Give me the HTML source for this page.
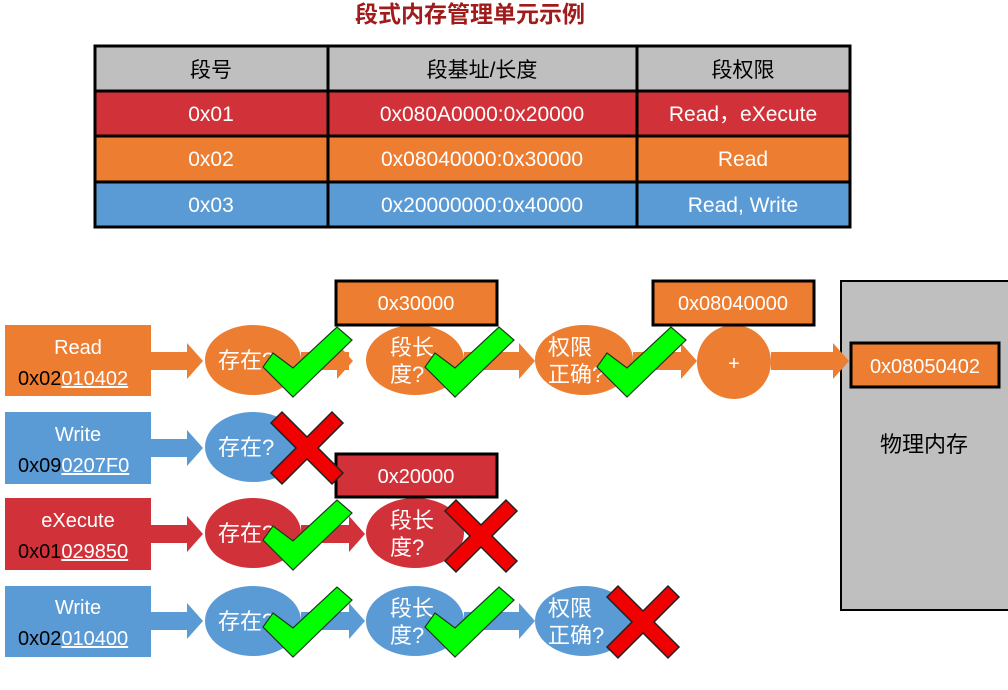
<!DOCTYPE html>
<html><head><meta charset="utf-8"><style>
body{margin:0;background:#fff;width:1008px;height:685px;overflow:hidden}
svg text{font-family:"Liberation Sans","Noto Sans CJK SC",sans-serif}
</style></head><body>
<svg width="1008" height="685" viewBox="0 0 1008 685" xmlns="http://www.w3.org/2000/svg">
<defs>
<polygon id="chk" points="-20,-44 0,-29 44,-70 59,-57 0,0 -30,-30" fill="#00ff00" stroke="#1a3a1a" stroke-width="1.2"/>
<polygon id="xx" points="-36,-25 -25,-36 0,-11 25,-36 36,-25 11,0 36,25 25,36 0,11 -25,36 -36,25 -11,0" fill="#f00000" stroke="#222" stroke-width="1.5"/>
<polygon id="arr" points="0,-9 36,-9 36,-18 52,0 36,18 36,9 0,9"/>
</defs>
<text x="470" y="22" text-anchor="middle" font-size="23" font-weight="bold" fill="#a01c1c">段式内存管理单元示例</text>
<!-- table -->
<g stroke="#000" stroke-width="3">
<rect x="95" y="46" width="755" height="45" fill="#bfbfbf"/>
<rect x="95" y="91" width="755" height="45" fill="#d13239"/>
<rect x="95" y="136" width="755" height="46" fill="#ed7d31"/>
<rect x="95" y="182" width="755" height="45" fill="#5b9bd5"/>
<line x1="328" y1="46" x2="328" y2="227"/><line x1="637" y1="46" x2="637" y2="227"/>
</g>
<g font-size="21" text-anchor="middle" fill="#fff">
<text x="211" y="77" fill="#000">段号</text><text x="482" y="77" fill="#000">段基址/长度</text><text x="743" y="77" fill="#000">段权限</text>
<text x="211" y="121">0x01</text><text x="482" y="121">0x080A0000:0x20000</text><text x="743" y="121">Read，eXecute</text>
<text x="211" y="166">0x02</text><text x="482" y="166">0x08040000:0x30000</text><text x="743" y="166">Read</text>
<text x="211" y="212">0x03</text><text x="482" y="212">0x20000000:0x40000</text><text x="743" y="212">Read, Write</text>
</g>
<!-- physical memory -->
<rect x="841" y="281" width="170" height="329" fill="#bfbfbf" stroke="#000" stroke-width="2"/>
<text x="924" y="452" font-size="22" text-anchor="middle">物理内存</text>
<!-- row1 -->
<g fill="#ed7d31">
<rect x="5" y="325" width="146" height="71"/>
<use href="#arr" x="151" y="361"/>
<ellipse cx="253" cy="360" rx="48" ry="35"/>
<use href="#arr" x="301" y="361"/>
<rect x="301" y="352" width="48" height="18"/>
<ellipse cx="415" cy="360" rx="49" ry="35"/>
<rect x="464" y="352" width="50" height="18"/><use href="#arr" x="483" y="361"/>
<ellipse cx="584" cy="360" rx="49" ry="35"/>
<rect x="633" y="352" width="30" height="18"/><use href="#arr" x="645" y="361"/>
<circle cx="734" cy="362" r="37"/>
<rect x="771" y="352" width="40" height="18"/><use href="#arr" x="797" y="361"/>
<rect x="336" y="281" width="161" height="44" stroke="#000" stroke-width="3"/>
<rect x="653" y="281" width="161" height="44" stroke="#000" stroke-width="3"/>
<rect x="851" y="343" width="148" height="44" stroke="#000" stroke-width="3"/>
</g>
<!-- row2 -->
<g fill="#5b9bd5">
<rect x="5" y="412" width="146" height="72"/>
<use href="#arr" x="151" y="448"/>
<ellipse cx="253" cy="447" rx="48" ry="35"/>
</g>
<!-- row3 -->
<g fill="#d13239">
<rect x="5" y="498" width="146" height="72"/>
<use href="#arr" x="151" y="534"/>
<ellipse cx="253" cy="533" rx="48" ry="35"/>
<rect x="301" y="525" width="30" height="18"/><use href="#arr" x="313" y="534"/>
<ellipse cx="415" cy="533" rx="49" ry="35"/>
<rect x="336" y="454" width="161" height="43" stroke="#000" stroke-width="3"/>
</g>
<!-- row4 -->
<g fill="#5b9bd5">
<rect x="5" y="586" width="146" height="71"/>
<use href="#arr" x="151" y="621"/>
<ellipse cx="253" cy="621" rx="48" ry="35"/>
<rect x="301" y="612" width="30" height="18"/><use href="#arr" x="313" y="621"/>
<ellipse cx="415" cy="621" rx="49" ry="35"/>
<rect x="464" y="612" width="30" height="18"/><use href="#arr" x="483" y="621"/>
<ellipse cx="584" cy="621" rx="49" ry="35"/>
</g>
<!-- texts -->
<g fill="#fff" font-size="20" text-anchor="middle">
<text x="78" y="354">Read</text>
<text x="78" y="441">Write</text>
<text x="78" y="527">eXecute</text>
<text x="78" y="614">Write</text>
<text x="416" y="310">0x30000</text>
<text x="733" y="310">0x08040000</text>
<text x="925" y="373">0x08050402</text>
<text x="416" y="483">0x20000</text>
<text x="734" y="370" font-size="20">+</text>
</g>
<g font-size="20">
<text x="18" y="385"><tspan fill="#000">0x02</tspan><tspan fill="#fff" text-decoration="underline">010402</tspan></text>
<text x="18" y="472"><tspan fill="#000">0x09</tspan><tspan fill="#fff" text-decoration="underline">0207F0</tspan></text>
<text x="18" y="558"><tspan fill="#000">0x01</tspan><tspan fill="#fff" text-decoration="underline">029850</tspan></text>
<text x="18" y="645"><tspan fill="#000">0x02</tspan><tspan fill="#fff" text-decoration="underline">010400</tspan></text>
</g>
<g fill="#fff" font-size="22">
<text x="218" y="368">存在?</text>
<text x="390" y="355">段长</text><text x="390" y="382">度?</text>
<text x="548" y="355">权限</text><text x="548" y="382">正确?</text>
<text x="218" y="455">存在?</text>
<text x="218" y="541">存在?</text>
<text x="390" y="528">段长</text><text x="390" y="555">度?</text>
<text x="218" y="629">存在?</text>
<text x="390" y="616">段长</text><text x="390" y="643">度?</text>
<text x="548" y="616">权限</text><text x="548" y="643">正确?</text>
</g>
<!-- marks -->
<use href="#chk" x="293" y="397"/>
<use href="#chk" x="455" y="397"/>
<use href="#chk" x="627" y="397"/>
<use href="#xx" x="307" y="448"/>
<use href="#chk" x="293" y="570"/>
<use href="#xx" x="481" y="536"/>
<use href="#chk" x="293" y="657"/>
<use href="#chk" x="455" y="657"/>
<use href="#xx" x="643" y="622"/>
</svg>
</body></html>
